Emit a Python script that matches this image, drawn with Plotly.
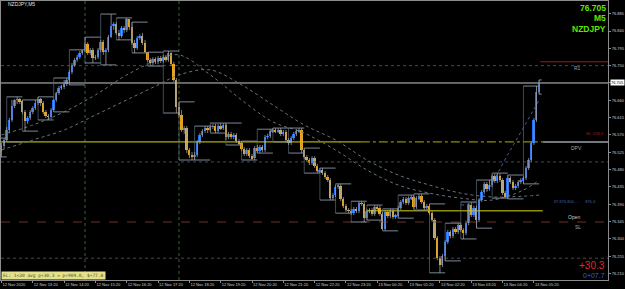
import plotly.graph_objects as go

# ---------------- data ----------------
open_ = [76.526, 76.541, 76.557, 76.583, 76.609, 76.645, 76.661, 76.663, 76.658, 76.630,
 76.606, 76.614, 76.630, 76.640, 76.653, 76.663, 76.653, 76.630, 76.619, 76.617,
 76.635, 76.661, 76.679, 76.692, 76.695, 76.702, 76.713, 76.734, 76.752, 76.765,
 76.772, 76.783, 76.791, 76.806, 76.783, 76.791, 76.770, 76.772, 76.791, 76.811,
 76.785, 76.791, 76.824, 76.853, 76.858, 76.835, 76.827, 76.848, 76.843, 76.871,
 76.850, 76.809, 76.796, 76.822, 76.827, 76.809, 76.785, 76.765, 76.757, 76.767,
 76.760, 76.770, 76.762, 76.772, 76.765, 76.783, 76.754, 76.713, 76.643, 76.622,
 76.583, 76.588, 76.531, 76.518, 76.513, 76.518, 76.552, 76.570, 76.580, 76.588,
 76.583, 76.591, 76.593, 76.580, 76.593, 76.588, 76.596, 76.565, 76.573, 76.565,
 76.570, 76.554, 76.549, 76.534, 76.521, 76.531, 76.515, 76.510, 76.536, 76.528,
 76.539, 76.531, 76.565, 76.567, 76.580, 76.583, 76.580, 76.583, 76.573, 76.578,
 76.557, 76.549, 76.562, 76.573, 76.580, 76.583, 76.531, 76.513, 76.505, 76.497,
 76.510, 76.489, 76.476, 76.479, 76.471, 76.461, 76.453, 76.406, 76.414, 76.435,
 76.438, 76.404, 76.386, 76.375, 76.373, 76.367, 76.378, 76.373, 76.393, 76.391,
 76.354, 76.373, 76.375, 76.365, 76.383, 76.380, 76.365, 76.326, 76.370, 76.360,
 76.373, 76.357, 76.360, 76.380, 76.396, 76.404, 76.393, 76.406, 76.409, 76.383,
 76.406, 76.411, 76.396, 76.380, 76.386, 76.367, 76.349, 76.302, 76.251, 76.232,
 76.256, 76.292, 76.318, 76.308, 76.326, 76.318, 76.336, 76.323, 76.315, 76.341,
 76.388, 76.362, 76.380, 76.349, 76.401, 76.422, 76.443, 76.430, 76.440, 76.463,
 76.450, 76.463, 76.453, 76.419, 76.409, 76.458, 76.448, 76.432, 76.438, 76.448,
 76.453, 76.458, 76.484, 76.505, 76.549, 76.609, 76.682]

high = [76.549, 76.562, 76.591, 76.614, 76.661, 76.663, 76.669, 76.666, 76.661, 76.635,
 76.619, 76.635, 76.645, 76.661, 76.669, 76.666, 76.658, 76.635, 76.624, 76.640,
 76.663, 76.682, 76.697, 76.700, 76.713, 76.718, 76.739, 76.757, 76.770, 76.778,
 76.788, 76.791, 76.824, 76.811, 76.796, 76.796, 76.778, 76.796, 76.817, 76.817,
 76.796, 76.830, 76.884, 76.863, 76.863, 76.843, 76.853, 76.853, 76.874, 76.871,
 76.863, 76.817, 76.827, 76.832, 76.835, 76.817, 76.785, 76.770, 76.772, 76.772,
 76.775, 76.775, 76.778, 76.778, 76.788, 76.785, 76.760, 76.718, 76.656, 76.635,
 76.593, 76.593, 76.536, 76.526, 76.526, 76.557, 76.575, 76.585, 76.593, 76.593,
 76.596, 76.599, 76.599, 76.599, 76.601, 76.601, 76.601, 76.578, 76.578, 76.575,
 76.575, 76.559, 76.554, 76.539, 76.536, 76.536, 76.521, 76.541, 76.544, 76.544,
 76.544, 76.570, 76.573, 76.585, 76.588, 76.588, 76.588, 76.588, 76.583, 76.583,
 76.562, 76.567, 76.578, 76.585, 76.588, 76.588, 76.536, 76.518, 76.510, 76.515,
 76.515, 76.495, 76.484, 76.484, 76.476, 76.466, 76.458, 76.419, 76.440, 76.443,
 76.443, 76.409, 76.391, 76.380, 76.378, 76.383, 76.383, 76.398, 76.398, 76.396,
 76.378, 76.380, 76.380, 76.388, 76.388, 76.386, 76.370, 76.375, 76.375, 76.378,
 76.378, 76.365, 76.386, 76.401, 76.409, 76.409, 76.411, 76.414, 76.414, 76.411,
 76.417, 76.417, 76.401, 76.391, 76.391, 76.373, 76.354, 76.308, 76.256, 76.261,
 76.297, 76.323, 76.323, 76.331, 76.331, 76.341, 76.341, 76.328, 76.347, 76.393,
 76.396, 76.386, 76.386, 76.406, 76.427, 76.448, 76.448, 76.453, 76.469, 76.469,
 76.471, 76.469, 76.458, 76.425, 76.466, 76.463, 76.453, 76.443, 76.453, 76.458,
 76.463, 76.489, 76.510, 76.554, 76.614, 76.697, 76.713]

low = [76.513, 76.534, 76.552, 76.575, 76.604, 76.640, 76.650, 76.650, 76.624, 76.580,
 76.599, 76.609, 76.624, 76.635, 76.648, 76.645, 76.624, 76.614, 76.609, 76.611,
 76.630, 76.656, 76.674, 76.687, 76.689, 76.697, 76.700, 76.728, 76.747, 76.760,
 76.767, 76.778, 76.785, 76.778, 76.778, 76.757, 76.765, 76.767, 76.785, 76.778,
 76.752, 76.785, 76.822, 76.843, 76.830, 76.817, 76.822, 76.835, 76.837, 76.843,
 76.804, 76.783, 76.791, 76.817, 76.804, 76.783, 76.760, 76.749, 76.752, 76.754,
 76.754, 76.757, 76.757, 76.760, 76.760, 76.749, 76.708, 76.627, 76.617, 76.578,
 76.573, 76.523, 76.510, 76.505, 76.505, 76.513, 76.546, 76.565, 76.575, 76.575,
 76.578, 76.585, 76.575, 76.575, 76.583, 76.583, 76.557, 76.559, 76.559, 76.559,
 76.549, 76.544, 76.528, 76.515, 76.515, 76.510, 76.505, 76.505, 76.523, 76.523,
 76.526, 76.526, 76.559, 76.562, 76.575, 76.575, 76.575, 76.567, 76.567, 76.552,
 76.544, 76.544, 76.557, 76.567, 76.575, 76.523, 76.508, 76.500, 76.492, 76.492,
 76.484, 76.471, 76.471, 76.466, 76.456, 76.448, 76.401, 76.401, 76.409, 76.430,
 76.398, 76.380, 76.370, 76.367, 76.362, 76.362, 76.367, 76.367, 76.386, 76.344,
 76.349, 76.367, 76.360, 76.360, 76.375, 76.360, 76.323, 76.321, 76.354, 76.354,
 76.352, 76.352, 76.354, 76.375, 76.391, 76.388, 76.388, 76.401, 76.378, 76.378,
 76.401, 76.391, 76.375, 76.375, 76.362, 76.344, 76.297, 76.245, 76.212, 76.227,
 76.243, 76.287, 76.302, 76.302, 76.313, 76.313, 76.318, 76.300, 76.310, 76.336,
 76.357, 76.357, 76.328, 76.344, 76.396, 76.417, 76.425, 76.425, 76.435, 76.445,
 76.445, 76.448, 76.414, 76.406, 76.404, 76.443, 76.427, 76.427, 76.432, 76.443,
 76.443, 76.453, 76.479, 76.500, 76.544, 76.604, 76.676]

close = [76.541, 76.557, 76.583, 76.609, 76.645, 76.661, 76.663, 76.658, 76.630, 76.606,
 76.614, 76.630, 76.640, 76.653, 76.663, 76.653, 76.630, 76.619, 76.617, 76.635,
 76.661, 76.679, 76.692, 76.695, 76.702, 76.713, 76.734, 76.752, 76.765, 76.772,
 76.783, 76.791, 76.806, 76.783, 76.791, 76.770, 76.772, 76.791, 76.811, 76.785,
 76.791, 76.824, 76.853, 76.858, 76.835, 76.827, 76.848, 76.843, 76.871, 76.850,
 76.809, 76.796, 76.822, 76.827, 76.809, 76.785, 76.765, 76.757, 76.767, 76.760,
 76.770, 76.762, 76.772, 76.765, 76.783, 76.754, 76.713, 76.643, 76.622, 76.583,
 76.588, 76.531, 76.518, 76.513, 76.518, 76.552, 76.570, 76.580, 76.588, 76.583,
 76.591, 76.593, 76.580, 76.593, 76.588, 76.596, 76.565, 76.573, 76.565, 76.570,
 76.554, 76.549, 76.534, 76.521, 76.531, 76.515, 76.510, 76.536, 76.528, 76.539,
 76.531, 76.565, 76.567, 76.580, 76.583, 76.580, 76.583, 76.573, 76.578, 76.557,
 76.549, 76.562, 76.573, 76.580, 76.583, 76.531, 76.513, 76.505, 76.497, 76.510,
 76.489, 76.476, 76.479, 76.471, 76.461, 76.453, 76.406, 76.414, 76.435, 76.438,
 76.404, 76.386, 76.375, 76.373, 76.367, 76.378, 76.373, 76.393, 76.391, 76.354,
 76.373, 76.375, 76.365, 76.383, 76.380, 76.365, 76.326, 76.370, 76.360, 76.373,
 76.357, 76.360, 76.380, 76.396, 76.404, 76.393, 76.406, 76.409, 76.383, 76.406,
 76.411, 76.396, 76.380, 76.386, 76.367, 76.349, 76.302, 76.251, 76.232, 76.256,
 76.292, 76.318, 76.308, 76.326, 76.318, 76.336, 76.323, 76.315, 76.341, 76.388,
 76.362, 76.380, 76.349, 76.401, 76.422, 76.443, 76.430, 76.440, 76.463, 76.450,
 76.463, 76.453, 76.419, 76.409, 76.458, 76.448, 76.432, 76.438, 76.448, 76.453,
 76.458, 76.484, 76.505, 76.549, 76.609, 76.682, 76.705]

# moving averages (sampled at bar positions)
ma_fast_bars = [0, 12, 24, 36, 48, 60, 68, 80, 92, 104, 116, 128, 140, 152, 164, 176, 188, 200, 206]
ma_fast = [76.570, 76.596, 76.630, 76.674, 76.726, 76.765, 76.778, 76.726, 76.661, 76.604,
           76.575, 76.531, 76.479, 76.440, 76.419, 76.406, 76.401, 76.427, 76.453]
ma_slow_bars = [0, 12, 24, 36, 48, 60, 68, 80, 92, 104, 116, 128, 140, 152, 164, 176, 188, 200, 206]
ma_slow = [76.531, 76.557, 76.583, 76.622, 76.661, 76.700, 76.726, 76.739, 76.700, 76.648,
           76.596, 76.557, 76.505, 76.466, 76.440, 76.419, 76.409, 76.411, 76.414]
# steep dotted band line during the final rally
band_bars = [176, 183, 195, 206]
band_vals = [76.388, 76.401, 76.531, 76.661]

time_tick_bars = [0, 12, 24, 36, 48, 60, 72, 84, 96, 108, 120, 132, 144, 156, 168, 180, 192, 204]
time_tick_text = ["12 Nov 2020", "12 Nov 13:20", "12 Nov 14:20", "12 Nov 15:20", "12 Nov 16:20",
                  "12 Nov 17:20", "12 Nov 18:20", "12 Nov 19:20", "12 Nov 20:20", "12 Nov 21:20",
                  "12 Nov 22:20", "12 Nov 23:20", "13 Nov 00:20", "13 Nov 01:20", "13 Nov 02:20",
                  "13 Nov 03:20", "13 Nov 04:20", "13 Nov 05:20"]

price_ticks = [76.210, 76.255, 76.300, 76.345, 76.390, 76.435, 76.480, 76.525,
               76.570, 76.615, 76.660, 76.705, 76.750, 76.795, 76.840, 76.885]
price_tick_text = ["76.210", "76.255", "76.300", "76.345", "76.390", "76.435", "76.480", "76.525",
                   "76.570", "76.615", "76.660", "76.705", "76.750", "76.795", "76.840", "76.885"]

bid = 76.705
r1 = 76.760
dpv = 76.552
day_open = 76.373
sl_level = 76.344
grid_levels = [76.25, 76.50, 76.75]
session_bars = [32, 68]
day_start_bar = 140
current_bar = 206

# ---------------- figure ----------------
n = len(close)
bars = list(range(n))
XMIN, XMAX = -0.2, 232.4
YMIN, YMAX = 76.1934, 76.9179

BLUE = "#1f6fff"
ORANGE = "#e9a61c"
WICK = "#a0a0a0"
BRACKET = "#7a8896"
FONT = "Liberation Sans"

fig = go.Figure()

def hline(x0, x1, yv, color, width=1, dash=None):
    fig.add_trace(go.Scatter(x=[x0, x1], y=[yv, yv], mode="lines",
                             line=dict(color=color, width=width, dash=dash), hoverinfo="skip"))

for g in grid_levels:
    hline(XMIN, XMAX, g, "#4a4a4a", 1, "dot")
for sb in session_bars:
    fig.add_trace(go.Scatter(x=[sb, sb], y=[YMIN, YMAX], mode="lines",
                             line=dict(color="#2e6a2e", width=1, dash="dot"), hoverinfo="skip"))

hline(XMIN, XMAX, sl_level, "#6e3024", 1, "dash")
hline(XMIN, 137.7, dpv, "#d8d800", 1)
hline(137.7, current_bar + 1.4, dpv, "#b0b000", 1, "dashdot")
hline(current_bar + 1.4, XMAX, dpv, "#9aa0a6", 1.5)
hline(day_start_bar, current_bar + 1.4, day_open, "#d8d800", 1)
hline(current_bar + 0.5, XMAX, r1, "#9a1a1a", 1)
hline(XMIN, XMAX, bid, "#c8c8c8", 1)

fig.add_trace(go.Scatter(x=ma_slow_bars, y=ma_slow, mode="lines", line_shape="spline",
                         line=dict(color="#66757c", width=1, dash="dot"), hoverinfo="skip"))
fig.add_trace(go.Scatter(x=ma_fast_bars, y=ma_fast, mode="lines", line_shape="spline",
                         line=dict(color="#66757c", width=1, dash="dot"), hoverinfo="skip"))
fig.add_trace(go.Scatter(x=band_bars, y=band_vals, mode="lines", line_shape="spline",
                         line=dict(color="#41639a", width=1, dash="dot"), hoverinfo="skip"))

# 30-minute range brackets: horizontals at group high / low, thin vertical at group start
hx, hy, vx, vy = [], [], [], []
for s in range(-4, n, 6):
    idx = [i for i in range(max(s, 0), min(s + 6, n))]
    if not idx:
        continue
    hi = max(high[i] for i in idx)
    lo = min(low[i] for i in idx)
    e = min(s + 6, n)
    hx += [s, e, None, s, e, None]
    hy += [hi, hi, None, lo, lo, None]
    vx += [s, s, None]
    vy += [hi, lo, None]
fig.add_trace(go.Scatter(x=vx, y=vy, mode="lines", line=dict(color="#5d6973", width=0.7),
                         hoverinfo="skip"))
fig.add_trace(go.Scatter(x=hx, y=hy, mode="lines", line=dict(color=BRACKET, width=1),
                         hoverinfo="skip"))

# wicks
wx, wy = [], []
for i in bars:
    wx += [i, i, None]
    wy += [low[i], high[i], None]
fig.add_trace(go.Scatter(x=wx, y=wy, mode="lines", line=dict(color=WICK, width=0.8),
                         hoverinfo="skip"))

# bodies
base, height, colors = [], [], []
for o, c in zip(open_, close):
    base.append(min(o, c))
    h = abs(c - o)
    if h < 0.0008:
        height.append(0.0008)
        colors.append(WICK)
    else:
        height.append(h)
        colors.append(BLUE if c > o else ORANGE)
fig.add_trace(go.Bar(x=bars, y=height, base=base, width=0.72,
                     marker=dict(color=colors, line=dict(width=0)), hoverinfo="skip"))

W = 607.0
H = 279.0
def px(p):
    return (p - 1) / W
def py(p):
    return 1 - (p - 1) / H

ann = []
ann.append(dict(x=px(6), y=py(3.5), xref="paper", yref="paper", xanchor="left", yanchor="middle",
                text="NZDJPY,M5", showarrow=False, font=dict(family=FONT, size=5, color="#e0e0e0")))
for txt, yy in [("76.705", 7.5), ("M5", 18.5), ("NZDJPY", 29)]:
    ann.append(dict(x=px(608), y=py(yy), xref="paper", yref="paper",
                    xanchor="right", yanchor="middle", text="<b>%s</b>" % txt, showarrow=False,
                    font=dict(family=FONT, size=8.5, color="#5ee600")))
ann.append(dict(x=px(577), y=r1, xref="paper", yref="y", xanchor="center", yanchor="top", yshift=-1,
                text="R1", showarrow=False, font=dict(family=FONT, size=5, color="#a0a0a0")))
ann.append(dict(x=px(576), y=dpv, xref="paper", yref="y", xanchor="center", yanchor="top", yshift=-1,
                text="DPV", showarrow=False, font=dict(family=FONT, size=5, color="#a0a0a0")))
ann.append(dict(x=px(574), y=day_open, xref="paper", yref="y", xanchor="center", yanchor="top",
                yshift=-1, text="Open", showarrow=False, font=dict(family=FONT, size=5, color="#c8c8c8")))
ann.append(dict(x=px(578), y=sl_level, xref="paper", yref="y", xanchor="center", yanchor="top",
                yshift=0, text="SL", showarrow=False, font=dict(family=FONT, size=5, color="#a0a0a0")))
ann.append(dict(x=px(595), y=76.575, xref="paper", yref="y", xanchor="center", yanchor="middle",
                text="SL: 076.5", showarrow=False, font=dict(family=FONT, size=4, color="#b02020")))
ann.append(dict(x=px(575), y=76.396, xref="paper", yref="y", xanchor="center", yanchor="middle",
                text="87.876.800 ..  .    876.4", showarrow=False,
                font=dict(family=FONT, size=4, color="#4060a0")))
ann.append(dict(x=1.0, y=bid, xref="paper", yref="y", xanchor="left", yanchor="middle", xshift=2,
                text="76.705", showarrow=False, bgcolor="#ffffff", borderpad=0,
                font=dict(family=FONT, size=4, color="#000000")))
ann.append(dict(x=px(607), y=py(265), xref="paper", yref="paper", xanchor="right",
                yanchor="middle", text="+30.3", showarrow=False,
                font=dict(family=FONT, size=10, color="#e02828")))
ann.append(dict(x=px(607), y=py(275.5), xref="paper", yref="paper", xanchor="right",
                yanchor="middle", text="0+07.7", showarrow=False,
                font=dict(family=FONT, size=7, color="#2f5fe0")))
ann.append(dict(x=0, y=0, xref="paper", yref="paper", xanchor="left", yanchor="bottom", yshift=0,
                text="EL: 1<30 avg p+30.3 = p+909.0, $+77.8", showarrow=False,
                bgcolor="#e6e08a", borderpad=1,
                font=dict(family="DejaVu Sans Mono", size=4.5, color="#3a5a3a")))

fig.update_layout(
    width=625, height=289,
    margin=dict(l=1, r=17, t=1, b=9, autoexpand=False),
    paper_bgcolor="#000000", plot_bgcolor="#000000",
    showlegend=False, barmode="overlay", bargap=0,
    annotations=ann,
    xaxis=dict(range=[XMIN, XMAX], showgrid=False, zeroline=False, automargin=False,
               tickvals=time_tick_bars, ticktext=time_tick_text, ticks="outside", tickangle=0,
               ticklen=2, tickcolor="#8c8c8c", ticklabelposition="outside right",
               tickfont=dict(family=FONT, size=4, color="#d0d0d0"),
               showline=True, mirror=True, linecolor="#8c8c8c", linewidth=1),
    yaxis=dict(range=[YMIN, YMAX], side="right", showgrid=False, zeroline=False, automargin=False,
               tickvals=price_ticks, ticktext=price_tick_text, ticks="outside",
               ticklen=2, tickcolor="#8c8c8c",
               tickfont=dict(family=FONT, size=4, color="#d0d0d0"),
               showline=True, mirror=True, linecolor="#8c8c8c", linewidth=1),
)

fig.write_html("out.html", include_plotlyjs=True, config={"displayModeBar": False})
